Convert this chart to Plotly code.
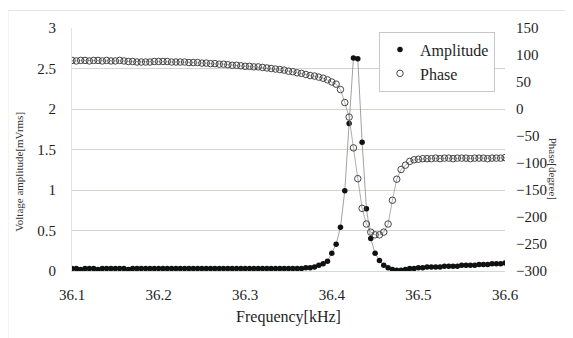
import numpy as np
import plotly.graph_objects as go

# Frequency sweep grid (kHz): 36.1 to 36.6 in 0.005 kHz steps
f_start, f_step, n_pts = 36.1, 0.005, 101
frequency = [round(f_start + f_step * i, 3) for i in range(n_pts)]

amplitude = [
    0.03, 0.03, 0.02, 0.03, 0.03, 0.03, 0.02, 0.03, 0.03, 0.03,
    0.03, 0.03, 0.03, 0.02, 0.03, 0.03, 0.03, 0.03, 0.03, 0.03,
    0.03, 0.03, 0.03, 0.03, 0.03, 0.03, 0.03, 0.03, 0.03, 0.03,
    0.03, 0.03, 0.03, 0.03, 0.03, 0.03, 0.03, 0.03, 0.03, 0.03,
    0.03, 0.03, 0.03, 0.03, 0.03, 0.03, 0.03, 0.03, 0.03, 0.03,
    0.03, 0.03, 0.03, 0.03, 0.04, 0.04, 0.05, 0.07, 0.09, 0.12,
    0.22, 0.33, 0.54, 0.99, 1.82, 2.63, 2.62, 1.59, 0.77, 0.40,
    0.22, 0.13, 0.07, 0.04, 0.02, 0.01, 0.01, 0.02, 0.03, 0.03,
    0.04, 0.04, 0.05, 0.05, 0.05, 0.05, 0.06, 0.06, 0.06, 0.06,
    0.07, 0.07, 0.07, 0.07, 0.08, 0.08, 0.08, 0.09, 0.09, 0.09,
    0.10,
]

phase = [
    90, 89, 90, 90, 89, 90, 90, 89, 90, 89,
    89, 90, 89, 88, 88, 87, 87, 87, 87, 88,
    88, 88, 88, 87, 87, 87, 87, 86, 86, 86,
    85, 85, 84, 84, 83, 83, 82, 81, 81, 80,
    79, 79, 78, 78, 77, 76, 75, 74, 73, 72,
    70, 69, 67, 66, 64, 62, 61, 59, 57, 54,
    50, 46, 36, 12, -15, -72, -129, -184, -213, -228,
    -233, -233, -228, -213, -169, -130, -112, -104, -97, -94,
    -93, -92, -92, -92, -91, -92, -91, -91, -92, -91,
    -91, -91, -92, -91, -91, -91, -92, -91, -91, -91,
    -90,
]

x_ticks = [36.1, 36.2, 36.3, 36.4, 36.5, 36.6]

FONT = "Liberation Serif"
TXT = "#1e1e1e"

fig = go.Figure()
# connecting lines (not in legend)
fig.add_trace(go.Scatter(
    x=frequency, y=amplitude, mode="lines", showlegend=False,
    line=dict(color="#8a8a8a", width=0.8), yaxis="y", hoverinfo="skip",
))
fig.add_trace(go.Scatter(
    x=frequency, y=phase, mode="lines", showlegend=False,
    line=dict(color="#9a9a9a", width=0.8), yaxis="y2", hoverinfo="skip",
))
# markers (in legend)
fig.add_trace(go.Scatter(
    x=frequency, y=amplitude, name="Amplitude", mode="markers",
    marker=dict(symbol="circle", size=5.5, color="#111111",
                line=dict(width=0)),
    yaxis="y",
))
fig.add_trace(go.Scatter(
    x=frequency, y=phase, name="Phase", mode="markers",
    marker=dict(symbol="circle-open", size=6.5, color="#454545",
                line=dict(width=1)),
    yaxis="y2",
))

# The page body adds an 8 px offset; margins compensate for it.
fig.update_layout(
    width=573, height=338,
    margin=dict(l=64, r=76, t=14, b=75),
    paper_bgcolor="white", plot_bgcolor="white",
    font=dict(family=FONT, color=TXT, size=14),
    showlegend=True,
    legend=dict(
        x=0.709, y=0.985, xanchor="left", yanchor="top",
        bgcolor="rgba(255,255,255,0.95)",
        bordercolor="#c8c8c8", borderwidth=1,
        font=dict(family=FONT, size=16, color=TXT),
        tracegroupgap=0,
    ),
    xaxis=dict(
        range=[36.1, 36.6], tickvals=x_ticks,
        ticktext=[f"{v:.1f}" for v in x_ticks],
        showgrid=False, zeroline=False,
        showline=True, linecolor="#c9dde0", linewidth=1,
        ticks="", tickfont=dict(size=15, family=FONT, color=TXT),
        ticklabelstandoff=10,
        title=dict(text="Frequency[kHz]", font=dict(size=16, family=FONT, color=TXT),
                   standoff=8),
    ),
    yaxis=dict(
        range=[0, 3], dtick=0.5, tickformat="~g",
        showgrid=True, gridcolor="#d4d4cc", gridwidth=1,
        zeroline=False, showline=True, linecolor="#e2e2e2", linewidth=1,
        ticks="", tickfont=dict(size=15, family=FONT, color=TXT),
        ticklabelstandoff=12,
    ),
    yaxis2=dict(
        range=[-300, 150], dtick=50, overlaying="y", side="right",
        showgrid=False, zeroline=False, showline=False,
        ticks="", tickfont=dict(size=15, family=FONT, color=TXT),
        ticklabelstandoff=10,
    ),
    annotations=[
        dict(text="Voltage amplitude[mVrms]", x=-0.14, y=0.41,
             xref="paper", yref="paper", textangle=-90, showarrow=False,
             font=dict(size=11, family=FONT, color="#333333")),
        dict(text="Phase[degree]", x=1.13, y=0.42,
             xref="paper", yref="paper", textangle=90, showarrow=False,
             font=dict(size=11, family=FONT, color="#333333")),
    ],
    shapes=[
        dict(type="line", xref="paper", yref="paper",
             x0=-0.148, x1=1.2, y0=1.072, y1=1.072,
             line=dict(color="#e4e4e4", width=1)),
        dict(type="line", xref="paper", yref="paper",
             x0=-0.148, x1=-0.148, y0=-0.3, y1=1.072,
             line=dict(color="#e4e4e4", width=1)),
    ],
)

fig.write_html("out.html")
